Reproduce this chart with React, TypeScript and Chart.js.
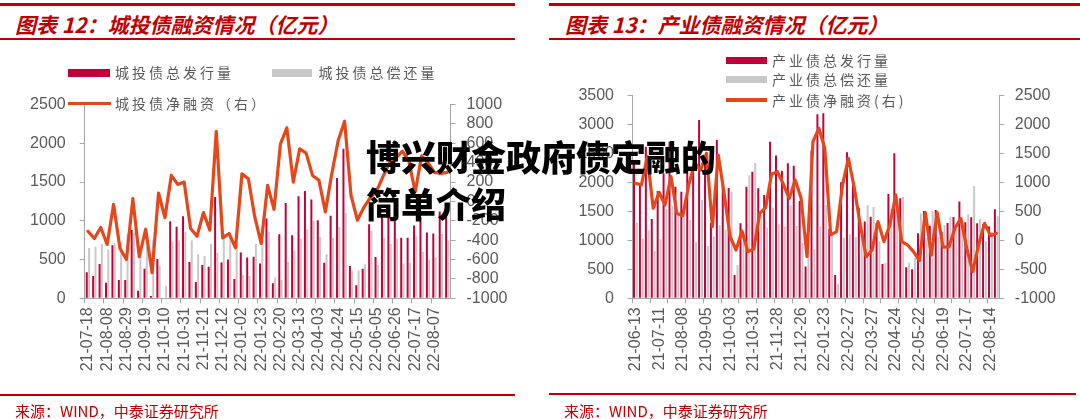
import React, { useEffect, useRef } from 'react';
import { Chart, registerables } from 'chart.js';

Chart.register(...registerables);

// ---------- Left chart: 城投债 ----------
const cityLabels = [
  '21-07-18', '21-07-25', '21-08-01', '21-08-08', '21-08-15', '21-08-22', '21-08-29', '21-09-05', '21-09-12', '21-09-19',
  '21-09-26', '21-10-03', '21-10-10', '21-10-17', '21-10-24', '21-10-31', '21-11-07', '21-11-14', '21-11-21', '21-11-28',
  '21-12-05', '21-12-12', '21-12-19', '21-12-26', '22-01-02', '22-01-09', '22-01-16', '22-01-23', '22-02-06', '22-02-13',
  '22-02-20', '22-02-27', '22-03-06', '22-03-13', '22-03-20', '22-03-27', '22-04-03', '22-04-10', '22-04-17', '22-04-24',
  '22-05-01', '22-05-08', '22-05-15', '22-05-22', '22-05-29', '22-06-05', '22-06-12', '22-06-19', '22-06-26', '22-07-03',
  '22-07-10', '22-07-17', '22-07-24', '22-07-31', '22-08-07', '22-08-14', '22-08-21',
];
const cityIssue = [
  335, 287, 442, 200, 686, 236, 236, 880, 99, 382,
  30, 506, 0, 995, 922, 1060, 468, 210, 429, 408,
  1308, 463, 502, 249, 592, 528, 536, 450, 1030, 193,
  828, 1231, 815, 1317, 1386, 1274, 1008, 459, 1064, 1553,
  1931, 416, 168, 383, 955, 533, 1058, 1058, 1049, 783,
  783, 940, 1050, 850, 835, 1120, 1050,
];
const cityRepay = [
  650, 665, 700, 630, 710, 720, 830, 850, 670, 670,
  760, 420, 160, 730, 750, 860, 750, 570, 545, 705,
  585, 840, 830, 730, 300, 290, 700, 880, 860, 270,
  235, 470, 615, 770, 890, 1000, 790, 570, 780, 920,
  1100, 350, 360, 440, 870, 430, 780, 700, 770, 450,
  460, 800, 600, 500, 530, 830, 750,
];
const cityNet = [
  -307, -383, -269, -444, -29, -486, -599, 29, -571, -287,
  -736, 87, -166, 269, 176, 200, -280, -359, -115, -297,
  725, -376, -331, -479, 286, 235, -160, -434, 166, -81,
  595, 760, 200, 544, 499, 269, 218, -108, 286, 629,
  828, 63, -194, -60, 40, 110, 260, 400, 450, 520,
  420, 100, 470, 400, 300, 290, 300,
];

// ---------- Right chart: 产业债 ----------
const indLabels = [
  '21-06-13', '21-06-20', '21-06-27', '21-07-04', '21-07-11', '21-07-18', '21-07-25', '21-08-01', '21-08-08', '21-08-15',
  '21-08-22', '21-08-29', '21-09-05', '21-09-12', '21-09-19', '21-09-26', '21-10-03', '21-10-10', '21-10-17', '21-10-24',
  '21-10-31', '21-11-07', '21-11-14', '21-11-21', '21-11-28', '21-12-05', '21-12-12', '21-12-19', '21-12-26', '22-01-02',
  '22-01-09', '22-01-16', '22-01-23', '22-02-06', '22-02-13', '22-02-20', '22-02-27', '22-03-06', '22-03-13', '22-03-20',
  '22-03-27', '22-04-03', '22-04-10', '22-04-17', '22-04-24', '22-05-01', '22-05-08', '22-05-15', '22-05-22', '22-05-29',
  '22-06-05', '22-06-12', '22-06-19', '22-06-26', '22-07-03', '22-07-10', '22-07-17', '22-07-24', '22-07-31', '22-08-07',
  '22-08-14', '22-08-21',
];
const indIssue = [
  2356, 1983, 2615, 1368, 1850, 2155, 2700, 1925, 1839, 2300,
  2300, 3075, 2400, 1300, 2730, 1983, 1900, 402, 1293, 1925,
  2184, 1897, 1782, 2701, 2460, 2200, 2327, 2287, 1678, 550,
  2550, 3172, 3190, 1200, 402, 2000, 2517, 1950, 1563, 1322,
  1408, 1300, 592, 1799, 2500, 1724, 534, 500, 1121, 1506,
  1250, 1523, 1149, 1300, 1400, 1667, 1310, 1397, 1293, 1276,
  1236, 1534,
];
const indRepay = [
  1300, 1030, 1173, 816, 1020, 1546, 1600, 1460, 1414, 1350,
  970, 1700, 900, 1064, 1259, 1183, 1840, 570, 1132, 2120,
  2333, 1432, 1219, 1563, 1276, 1234, 1603, 1247, 954, 830,
  849, 1241, 1604, 1108, 253, 1046, 1103, 1053, 1299, 1604,
  1575, 978, 615, 1535, 1718, 1747, 614, 695, 1460, 1041,
  1503, 1058, 1258, 1409, 1193, 1288, 1448, 1937, 1373, 983,
  1144, 1413,
];
const indNet = [
  983, 954, 1442, 552, 828, 609, 1098, 465, 425, 950,
  1330, 1210, 1500, 236, 1471, 800, 63, -167, 161, -195,
  -149, 465, 563, 1138, 1184, 966, 724, 1040, 724, -280,
  1701, 1931, 1586, 92, 149, 954, 1414, 897, 264, -282,
  -167, 322, -23, 264, 782, -23, -80, -195, -350, 480,
  -253, 480, -120, -109, 207, 379, -138, -540, -80, 293,
  80, 121,
];

const RED = '#C0003A';
const GRAY = '#C8C8C8';
const ORANGE = '#E5471B';
const TITLE_RED = '#C00000';
const AXIS = '#A6A6A6';
const TICK_TXT = '#595959';
const NUM_FONT = '"Liberation Sans", Arial, sans-serif';
const CJK_FONT = '"Noto Sans CJK SC", "Noto Sans", sans-serif';

function makeConfig(p: any): any {
  const labels = p.labels;
  return {
    type: 'bar',
    data: {
      labels,
      datasets: [
        {
          type: 'line', label: p.netName, data: p.net, yAxisID: 'y1',
          borderColor: ORANGE, backgroundColor: ORANGE, borderWidth: 3.2,
          pointRadius: 0, tension: 0, order: 0, borderJoinStyle: 'round', borderCapStyle: 'round',
        },
        {
          type: 'bar', label: p.issueName, data: p.issue, yAxisID: 'y',
          backgroundColor: RED, borderWidth: 0,
          categoryPercentage: p.catPct, barPercentage: p.barPct, order: 1,
        },
        {
          type: 'bar', label: p.repayName, data: p.repay, yAxisID: 'y',
          backgroundColor: GRAY, borderWidth: 0,
          categoryPercentage: p.catPct, barPercentage: p.barPct, order: 1,
        },
      ],
    },
    options: {
      responsive: false,
      animation: false,
      layout: { padding: { top: p.padTop, left: 0, right: 0, bottom: 0 } },
      plugins: { legend: { display: false }, tooltip: { enabled: false }, title: { display: false } },
      scales: {
        x: {
          offset: true,
          grid: {
            display: true, offset: true, drawOnChartArea: false, drawTicks: true, tickLength: 5,
            tickColor: (c: any) => (typeof c.index === 'number' && c.index % p.tickEvery === 0 ? AXIS : 'rgba(0,0,0,0)'),
            color: AXIS,
          },
          border: { display: true, color: AXIS, width: 1 },
          ticks: {
            autoSkip: false, minRotation: 90, maxRotation: 90, padding: 4,
            color: TICK_TXT, font: { family: NUM_FONT, size: 16 },
            callback: (_v: any, i: number) => (i % p.labelEvery === 0 ? labels[i] : ''),
          },
          afterFit: (s: any) => { s.height = p.xH; },
        },
        y: {
          position: 'left', min: 0, max: p.leftMax,
          grid: { display: true, drawOnChartArea: false, drawTicks: true, tickLength: 5, color: AXIS },
          border: { display: true, color: AXIS, width: 1 },
          ticks: {
            stepSize: 500, autoSkip: false, padding: p.leftPad, color: TICK_TXT,
            font: { family: NUM_FONT, size: 16 }, callback: (v: any) => String(v),
          },
          afterFit: (s: any) => { s.width = p.leftW; },
        },
        y1: {
          position: 'right', min: p.rightMin, max: p.rightMax,
          grid: { display: true, drawOnChartArea: false, drawTicks: true, tickLength: 5, color: AXIS },
          border: { display: true, color: AXIS, width: 1 },
          ticks: {
            stepSize: p.rightStep, autoSkip: false, padding: p.rightPad, color: TICK_TXT,
            font: { family: NUM_FONT, size: 16 }, callback: (v: any) => String(v),
          },
          afterFit: (s: any) => { s.width = p.rightW; },
        },
      },
    },
  };
}

function ChartCanvas(props: { cfg: any; left: number; top: number; width: number; height: number }) {
  const ref = useRef<HTMLCanvasElement | null>(null);
  useEffect(() => {
    if (!ref.current) return;
    const chart = new Chart(ref.current, props.cfg);
    return () => chart.destroy();
  }, []);
  return (
    <canvas
      ref={ref}
      width={props.width}
      height={props.height}
      style={{ position: 'absolute', left: props.left, top: props.top, width: props.width, height: props.height }}
    />
  );
}

const abs = (s: any) => ({ position: 'absolute' as const, ...s });

function LegendText(props: { x: number; cy: number; text: string }) {
  return (
    <div style={abs({
      left: props.x, top: props.cy - 10, height: 20, lineHeight: '20px', fontSize: 14,
      letterSpacing: '3px', color: '#595959', fontFamily: CJK_FONT, whiteSpace: 'nowrap',
    })}>{props.text}</div>
  );
}

export default function App() {
  const leftCfg = makeConfig({
    labels: cityLabels, issue: cityIssue, repay: cityRepay, net: cityNet,
    issueName: '城投债总发行量', repayName: '城投债总偿还量', netName: '城投债净融资（右）',
    leftMax: 2500, rightMin: -1000, rightMax: 1000, rightStep: 200,
    tickEvery: 3, labelEvery: 3,
    leftW: 84.7, rightW: 530 - 450.5, xH: 96.7, padTop: 104.6 - 40,
    leftPad: 14, rightPad: 11, catPct: 0.72, barPct: 0.86,
  });
  const rightCfg = makeConfig({
    labels: indLabels, issue: indIssue, repay: indRepay, net: indNet,
    issueName: '产业债总发行量', repayName: '产业债总偿还量', netName: '产业债净融资(右)',
    leftMax: 3500, rightMin: -1000, rightMax: 2500, rightStep: 500,
    tickEvery: 3, labelEvery: 4,
    leftW: 632.5 - 540, rightW: 1080 - 999.3 - 0, xH: 96.7, padTop: 95.3 - 40,
    leftPad: 13.5, rightPad: 10.5, catPct: 0.98, barPct: 0.68,
  });

  const titleStyle = {
    top: 11, height: 26, lineHeight: '26px', fontSize: 21, fontStyle: 'italic', fontWeight: 600,
    color: TITLE_RED, fontFamily: CJK_FONT, whiteSpace: 'nowrap',
  };
  const srcStyle = {
    height: 20, lineHeight: '20px', fontSize: 15, color: TITLE_RED, fontFamily: CJK_FONT, whiteSpace: 'nowrap',
  };
  const overlayStyle = {
    fontSize: 35, lineHeight: '35px', fontWeight: 900, color: '#000',
    fontFamily: CJK_FONT, whiteSpace: 'nowrap', zIndex: 10,
  };

  return (
    <div style={abs({ left: 0, top: 0, width: 1080, height: 419, background: '#fff', overflow: 'hidden' })}>
      {/* left panel frame */}
      <div style={abs({ left: 0, top: 3, width: 515, height: 3, background: TITLE_RED })} />
      <div style={abs({ left: 15, ...titleStyle })}>图表 12：城投债融资情况（亿元）</div>
      <div style={abs({ left: 0, top: 37.5, width: 515, height: 2, background: TITLE_RED })} />

      {/* right panel frame */}
      <div style={abs({ left: 549, top: 3, width: 531, height: 3, background: TITLE_RED })} />
      <div style={abs({ left: 565, ...titleStyle })}>图表 13：产业债融资情况（亿元）</div>
      <div style={abs({ left: 549, top: 37.5, width: 531, height: 2, background: TITLE_RED })} />

      {/* charts */}
      <ChartCanvas cfg={leftCfg} left={0} top={40} width={530} height={355} />
      <ChartCanvas cfg={rightCfg} left={540} top={40} width={540} height={355} />

      {/* left legend */}
      <div style={abs({ left: 68, top: 69, width: 42, height: 7.5, background: RED })} />
      <LegendText x={115} cy={72.3} text="城投债总发行量" />
      <div style={abs({ left: 272, top: 69, width: 40, height: 7.5, background: GRAY })} />
      <LegendText x={318.5} cy={72.3} text="城投债总偿还量" />
      <div style={abs({ left: 68, top: 101.8, width: 43, height: 3.2, background: ORANGE })} />
      <LegendText x={115} cy={103.3} text="城投债净融资（右）" />

      {/* right legend */}
      <div style={abs({ left: 726, top: 56.5, width: 41, height: 7.5, background: RED })} />
      <LegendText x={772} cy={60.3} text="产业债总发行量" />
      <div style={abs({ left: 726, top: 75.5, width: 41, height: 7.5, background: GRAY })} />
      <LegendText x={772} cy={79.2} text="产业债总偿还量" />
      <div style={abs({ left: 726, top: 98.2, width: 41, height: 3.5, background: ORANGE })} />
      <LegendText x={772} cy={99.9} text="产业债净融资(右)" />

      {/* bottom lines and sources */}
      <div style={abs({ left: 0, top: 393.5, width: 515, height: 2, background: TITLE_RED })} />
      <div style={abs({ left: 15, top: 401, ...srcStyle })}>来源：WIND，中泰证券研究所</div>
      <div style={abs({ left: 549, top: 392.5, width: 527, height: 2, background: TITLE_RED })} />
      <div style={abs({ left: 564, top: 400.5, ...srcStyle })}>来源：WIND，中泰证券研究所</div>

      {/* overlay text */}
      <div style={abs({ left: 366, top: 138, ...overlayStyle })}>博兴财金政府债定融的</div>
      <div style={abs({ left: 366, top: 184.7, ...overlayStyle })}>简单介绍</div>
    </div>
  );
}
